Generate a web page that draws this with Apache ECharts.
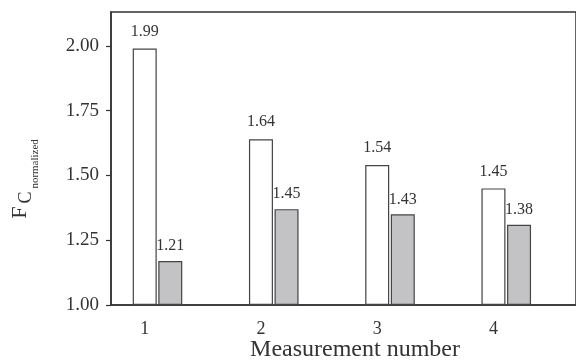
<!DOCTYPE html>
<html>
<head>
<meta charset="utf-8">
<script src="https://cdn.jsdelivr.net/npm/echarts@6/dist/echarts.min.js"></script>
<style>html,body{margin:0;padding:0;background:#fff;}#c{width:576px;height:360px;}</style>
</head>
<body>
<div id="c"></div>
<script>
// Data
var measurements = [1, 2, 3, 4];
var whiteValues = [1.99, 1.64, 1.54, 1.45];
var grayValues = [1.17, 1.37, 1.35, 1.31];
var whiteLabels = ['1.99', '1.64', '1.54', '1.45'];
var grayLabels = ['1.21', '1.45', '1.43', '1.38'];
var yTicks = [1.00, 1.25, 1.50, 1.75, 2.00];
var xTitle = 'Measurement number';

var GRAY_SHIFT = 0.22; // gray bar sits right next to the white one
var FONT = '"Liberation Serif", "Times New Roman", serif';

var chart = echarts.init(document.getElementById('c'), null, {renderer: 'canvas'});
chart.setOption({
  animation: false,
  backgroundColor: '#fff',
  grid: {left: 111, top: 12, right: -10, bottom: 55, show: true, borderColor: '#333', borderWidth: 1.5, backgroundColor: 'transparent'},
  xAxis: {
    type: 'value', min: 0.71, max: 4.71,
    axisLine: {show: true, lineStyle: {color: '#333', width: 1.5}},
    axisTick: {show: false},
    splitLine: {show: false},
    axisLabel: {customValues: measurements, fontFamily: FONT, fontSize: 18, color: '#333', margin: 15,
      formatter: function (v) { return String(v); }}
  },
  yAxis: {
    type: 'value', min: 1, max: 2.131, startValue: 1,
    axisLine: {show: true, lineStyle: {color: '#333', width: 1.5}},
    axisTick: {show: true, inside: false, length: 5, customValues: yTicks, lineStyle: {color: '#333', width: 1.2}},
    splitLine: {show: false},
    axisLabel: {customValues: yTicks, fontFamily: FONT, fontSize: 19, color: '#333', margin: 12,
      formatter: function (v) { return v.toFixed(2); }}
  },
  series: [
    {
      type: 'bar', name: 'white', barWidth: 24, barGap: '-100%', clip: true,
      data: measurements.map(function (m, i) { return [m, whiteValues[i]]; }),
      itemStyle: {color: '#ffffff', borderColor: '#444', borderWidth: 1.2},
      label: {show: true, position: 'top', distance: 9, fontFamily: FONT, fontSize: 16, color: '#333',
        formatter: function (p) { return whiteLabels[p.dataIndex]; }}
    },
    {
      type: 'bar', name: 'gray', barWidth: 24, barGap: '-100%', clip: true,
      data: measurements.map(function (m, i) { return [m + GRAY_SHIFT, grayValues[i]]; }),
      itemStyle: {color: '#c3c3c6', borderColor: '#444', borderWidth: 1.2},
      label: {show: true, position: 'top', distance: 7, fontFamily: FONT, fontSize: 16, color: '#333',
        formatter: function (p) { return grayLabels[p.dataIndex]; }}
    }
  ],
  graphic: [
    {
      type: 'text', x: 355, y: 350,
      style: {text: xTitle, font: '24px ' + FONT, fill: '#333', align: 'center', verticalAlign: 'middle'}
    },
    {
      type: 'group', x: 30, y: 179, rotation: Math.PI / 2,
      children: [{
        type: 'text', x: 0, y: 0,
        style: {
          text: '{f|F}{c|C}{n|normalized}', align: 'center', verticalAlign: 'middle', fill: '#333',
          rich: {
            f: {fontFamily: FONT, fontSize: 22, lineHeight: 22, padding: [0, 3, 10, 0], verticalAlign: 'bottom', fill: '#333'},
            c: {fontFamily: FONT, fontSize: 18, lineHeight: 18, padding: [0, 3, 6, 0], verticalAlign: 'bottom', fill: '#333'},
            n: {fontFamily: FONT, fontSize: 11, lineHeight: 11, padding: [0, 0, 0, 0], verticalAlign: 'bottom', fill: '#333'}
          }
        }
      }]
    }
  ]
});
</script>
</body>
</html>
